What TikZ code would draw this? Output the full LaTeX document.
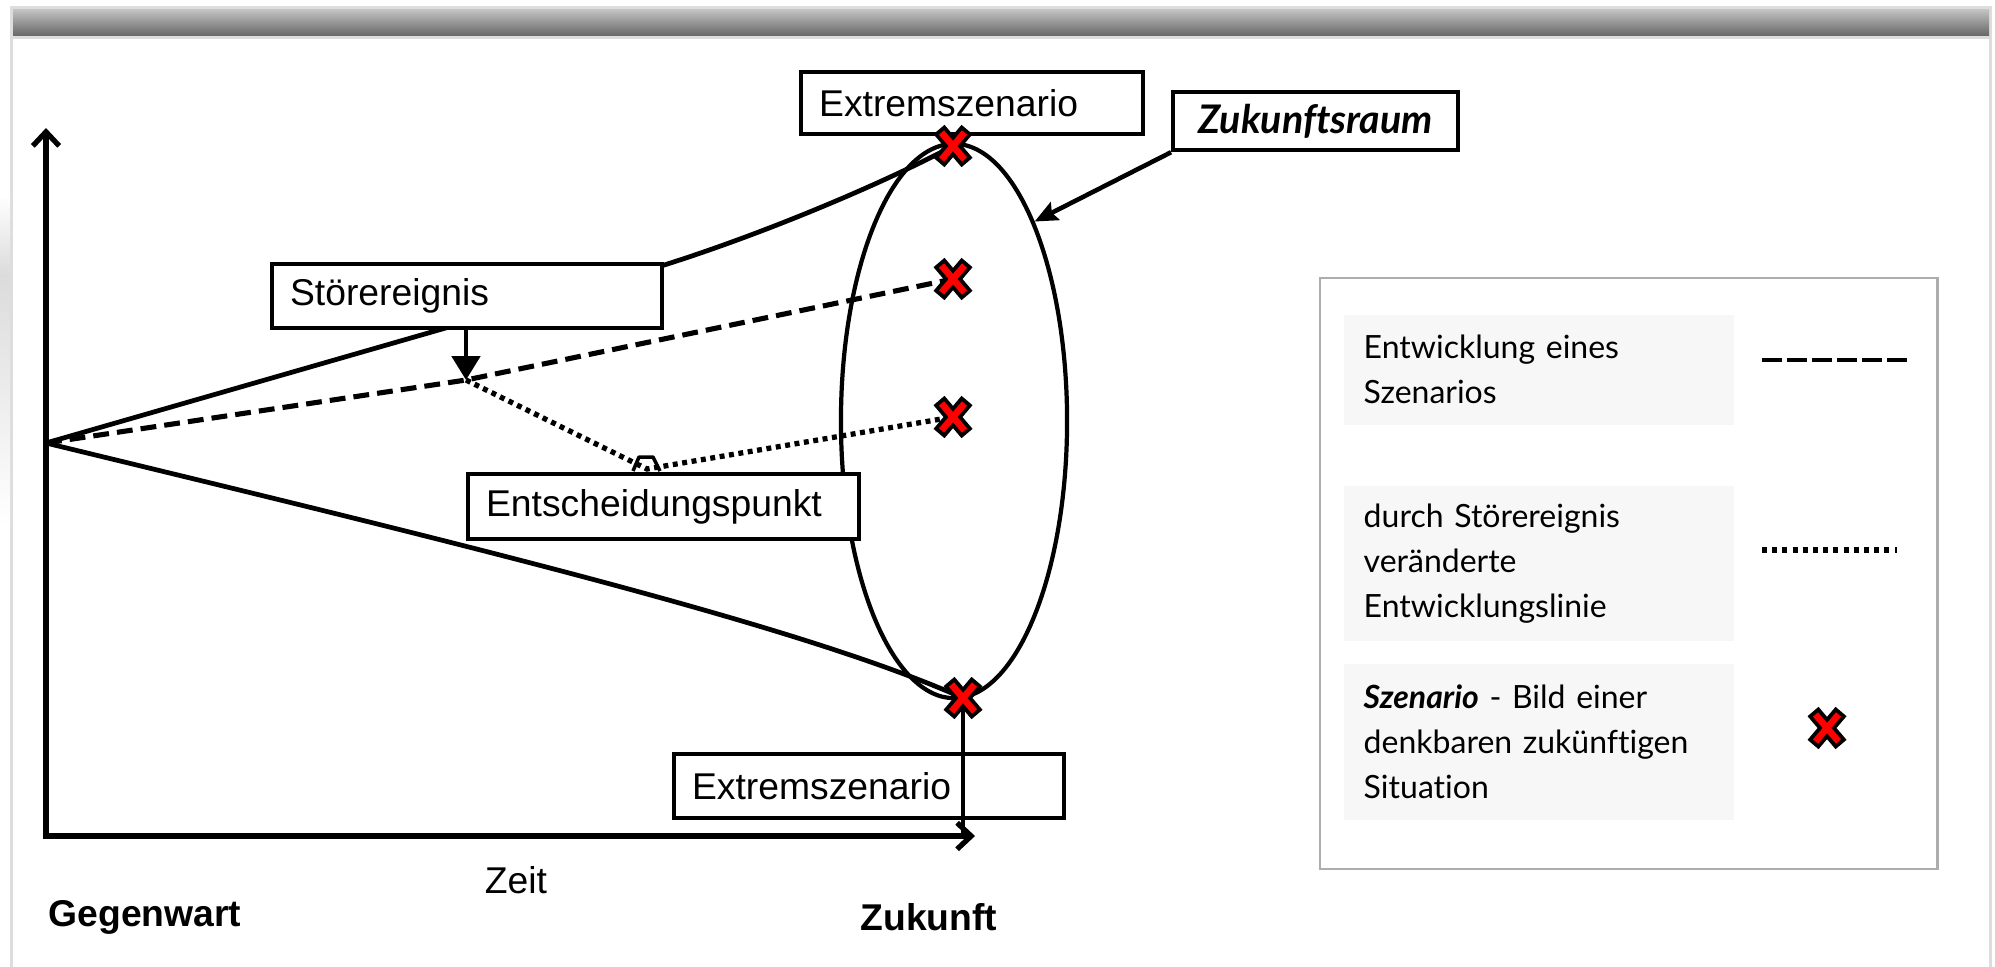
\documentclass[tikz,border=0pt]{standalone}
\usepackage{fontspec}
\setmainfont{Liberation Sans}
\newfontfamily\legendfont[Ligatures=NoCommon]{Lato}
\usetikzlibrary{arrows.meta,shapes.geometric}
\definecolor{hdrtop}{HTML}{C4C4C6}
\definecolor{hdrbot}{HTML}{666666}
\definecolor{framegray}{HTML}{DDDDDD}
\definecolor{legbg}{HTML}{F7F7F7}
\definecolor{legframe}{HTML}{ADADAD}
\definecolor{xred}{HTML}{FF0000}
\tikzset{
  xmark/.pic={
    \draw[line width=4.1pt, black] (-14,-16.5) -- (14,16.5) (-14,16.5) -- (14,-16.5);
    \draw[line width=1.9pt, xred] (-11.5,-13.5) -- (11.5,13.5) (-11.5,13.5) -- (11.5,-13.5);
  },
  mainfont/.style={font=\fontsize{10.6}{12.7}\selectfont},
  box/.style={draw=black, line width=1.2pt, fill=white, anchor=north west,
    inner xsep=0.18cm, inner ysep=0pt, align=left, mainfont},
  solidline/.style={line width=1.35pt},
  dashline/.style={line width=1.45pt, dash pattern=on 4.5pt off 2.3pt},
  dotline/.style={line width=1.5pt, dash pattern=on 1.4pt off 1.3pt},
  legdash/.style={line width=1.3pt, dash pattern=on 5.7pt off 1.4pt},
  legdot/.style={line width=1.45pt, dash pattern=on 1.4pt off 1.5pt},
  legrect/.style={fill=legbg, anchor=north west, inner xsep=0.20cm, inner ysep=0pt,
    text width=3.50cm, minimum width=3.90cm, align=left,
    font=\legendfont\fontsize{9.1}{12.8}\selectfont},
  lbl/.style={inner sep=0pt, mainfont},
}
\begin{document}
\begin{tikzpicture}[x=0.01cm, y=-0.01cm]
\useasboundingbox (0,0) rectangle (1995,966);
% window frame and header
\draw[framegray, line width=0.85pt] (11.5,980) -- (11.5,7.5) -- (1990.5,7.5) -- (1990.5,980);
\shade[top color=hdrtop, bottom color=hdrbot] (13,9) rectangle (1989,36);
\fill[framegray] (13,36) rectangle (1989,39);
\shade[top color=white, bottom color=black!14] (0,195) rectangle (10,275);
\shade[top color=black!14, bottom color=white] (0,275) rectangle (10,525);

% coordinates
\coordinate (O) at (46,443);
\coordinate (ax0) at (46,836);
\coordinate (axx) at (975,836);
\coordinate (axy) at (46,128);
\coordinate (E) at (466,380);
\coordinate (D) at (647,469);
\coordinate (Xt) at (953,146);
\coordinate (Xa) at (953,279);
\coordinate (Xb) at (953,417);
\coordinate (Xbot) at (963,698);
\coordinate (Xleg) at (1827,728);

% axes
\draw[line width=1.5pt, line join=miter,
  {Straight Barb[length=4pt,width=7.5pt]}-{Straight Barb[length=4pt,width=7.5pt]}]
  (axy) -- (ax0) -- (axx);

% development lines
\draw[solidline] (O) -- (661,266) .. controls (760,235) and (880,185) .. (Xt);
\draw[solidline] (O) .. controls (450,541) and (800,625) .. (Xbot);
\draw[dashline] (O) -- (E) -- (Xa);
\draw[dotline] (E) -- (D) -- (Xb);
\draw[line width=1pt, line join=round] (633,471) -- (639,457) -- (653,457) -- (660,471);

% future space
\node[draw, ellipse, line width=1.2pt, minimum width=2.26cm, minimum height=5.54cm, inner sep=0pt] (space) at (954,421) {};

% boxes
\node[box, text width=3.54cm, minimum height=0.64cm] (stor) at (270,262) {Störereignis};
\node[box, text width=3.55cm, minimum height=0.65cm] (ent) at (466,472) {Entscheidungspunkt};
\node[box, text width=3.06cm, minimum height=0.62cm] (exttop) at (799,70) {Extremszenario};
\node[box, text width=2.49cm, minimum height=0.58cm, align=center] (zukbox) at (1171,90)
  {\legendfont\fontsize{11.2}{13}\selectfont\bfseries\itshape Zukunftsraum};
\node[box, text width=3.54cm, minimum height=0.64cm] (extbot) at (672,752) {Extremszenario};

% arrows
\draw[line width=1.3pt, -{Triangle[length=6.8pt,width=8pt]}] (E |- stor.south) -- (E);
\draw[line width=1.3pt, -{Stealth[length=6.5pt,width=5.6pt,inset=1pt]}] (zukbox.south west) -- (space.68);
\draw[line width=1pt] (Xbot) -- (Xbot |- ax0);

% scenario markers
\pic at (Xt) {xmark};
\pic at (Xa) {xmark};
\pic at (Xb) {xmark};
\pic at (Xbot) {xmark};

% axis labels
\node[lbl] (zeit) at (516,880) {Zeit};
\node[lbl, anchor=west] (gegen) at (48,917) {\bfseries Gegenwart};
\node[lbl] (zukunft) at (929,917) {\bfseries Zukunft};

% legend
\node[draw=legframe, line width=0.6pt, anchor=north west, inner sep=0pt,
  minimum width=6.17cm, minimum height=5.91cm] (legend) at (1319,277) {};
\node[legrect, minimum height=1.10cm] (l1) at (1343,314) {Entwicklung eines\\Szenarios};
\node[legrect, minimum height=1.55cm] (l2) at (1343,485) {durch Störereignis\\veränderte\\Entwicklungslinie};
\node[legrect, minimum height=1.56cm] (l3) at (1343,663) {\textbf{\textit{Szenario}} - Bild einer\\denkbaren zukünftigen\\Situation};
\coordinate (lda) at (1762,360);
\coordinate (ldb) at (1911,360);
\coordinate (loa) at (1762,550);
\coordinate (lob) at (1897,550);
\draw[legdash] (lda) -- (ldb);
\draw[legdot] (loa) -- (lob);
\pic at (Xleg) {xmark};
\end{tikzpicture}
\end{document}
